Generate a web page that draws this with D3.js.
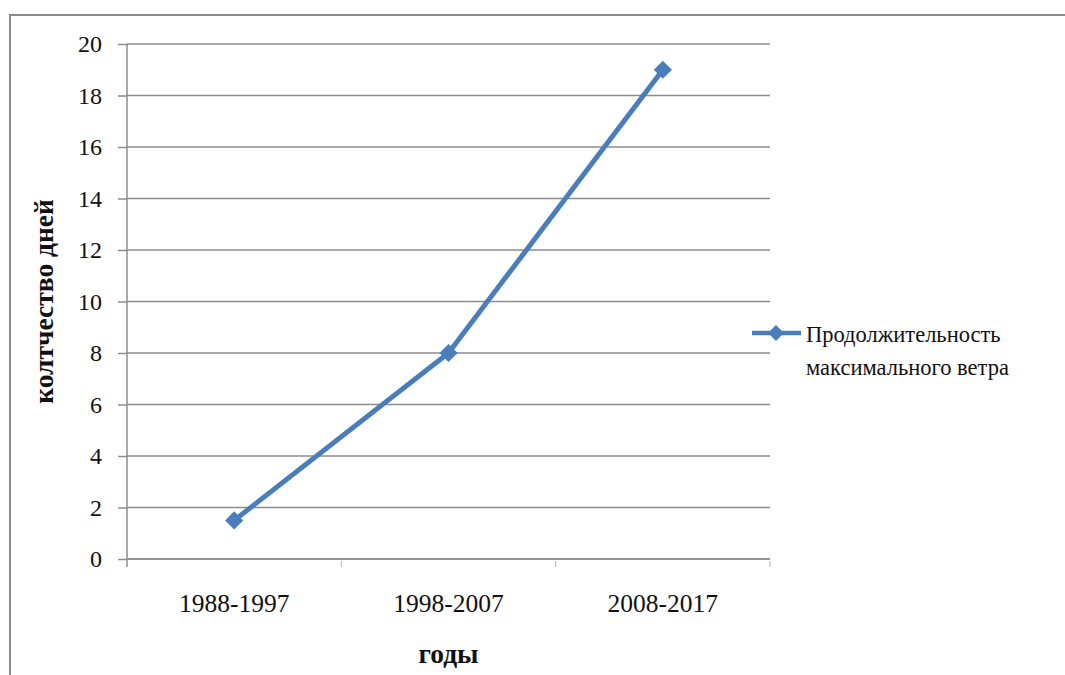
<!DOCTYPE html>
<html>
<head>
<meta charset="utf-8">
<script src="https://cdn.jsdelivr.net/npm/d3@7"></script>
<style>
  html, body { margin: 0; padding: 0; background: #fff; }
  svg { display: block; }
  text { font-family: "Liberation Serif", "Times New Roman", serif; fill: #111; }
</style>
</head>
<body>
<svg id="chart" width="1065" height="675"></svg>
<script>
// Data
const periods = ["1988-1997", "1998-2007", "2008-2017"];
const durationDays = [1.5, 8, 19];
const yTicks = [0, 2, 4, 6, 8, 10, 12, 14, 16, 18, 20];
const seriesName = ["Продолжительность", "максимального ветра"];
const yTitle = "колтчество дней";
const xTitle = "годы";

const svg = d3.select("#chart");
const lineColor = "#4a7ebb";
const gridColor = "#8c8c8c";
const serif = "'Liberation Serif', 'Times New Roman', serif";

// Outer chart frame
svg.append("rect")
  .attr("x", 10).attr("y", 15)
  .attr("width", 1070).attr("height", 680)
  .attr("fill", "#fff")
  .attr("stroke", "#8a8a8a").attr("stroke-width", 2);

const plot = { left: 127, right: 770, top: 44, bottom: 559 };

const x = d3.scaleBand().domain(periods).range([plot.left, plot.right]);
const y = d3.scaleLinear().domain([0, 20]).range([plot.bottom, plot.top]);

// Horizontal gridlines
svg.append("g")
  .selectAll("line")
  .data(yTicks)
  .join("line")
  .attr("x1", plot.left).attr("x2", plot.right)
  .attr("y1", d => y(d)).attr("y2", d => y(d))
  .attr("stroke", gridColor).attr("stroke-width", 1.5);

// Y axis
const yAxis = svg.append("g")
  .attr("transform", `translate(${plot.left},0)`)
  .call(d3.axisLeft(y).tickValues(yTicks).tickSize(9).tickPadding(16));
yAxis.attr("font-family", serif).attr("font-size", 24);
yAxis.select(".domain").attr("stroke", gridColor).attr("stroke-width", 1.5)
  .attr("d", `M0,${plot.top}V${plot.bottom + 8}`);
yAxis.selectAll(".tick line").attr("stroke", gridColor).attr("stroke-width", 1.5);
yAxis.selectAll(".tick text").attr("fill", "#111");

// X axis with ticks on category boundaries
const xAxis = svg.append("g")
  .attr("transform", `translate(0,${plot.bottom})`)
  .call(d3.axisBottom(x).tickSize(0).tickPadding(35));
xAxis.attr("font-family", serif).attr("font-size", 25.5);
xAxis.select(".domain").attr("stroke", gridColor).attr("stroke-width", 1.5)
  .attr("d", `M${plot.left},0H${plot.right}`);
xAxis.selectAll(".tick text").attr("fill", "#111");
const boundaries = periods.map(p => x(p)).concat([x(periods[periods.length - 1]) + x.bandwidth()]);
xAxis.append("g")
  .selectAll("line")
  .data(boundaries.slice(1))
  .join("line")
  .attr("x1", d => d).attr("x2", d => d)
  .attr("y1", 2).attr("y2", 8)
  .attr("stroke", "#b0b0b0").attr("stroke-width", 1);

// Axis titles
svg.append("text")
  .attr("transform", `translate(53,${(plot.top + plot.bottom) / 2}) rotate(-90)`)
  .attr("text-anchor", "middle")
  .attr("font-family", serif)
  .attr("font-size", 27.5).attr("font-weight", "bold")
  .text(yTitle);
svg.append("text")
  .attr("x", (plot.left + plot.right) / 2).attr("y", 663)
  .attr("text-anchor", "middle")
  .attr("font-family", serif)
  .attr("font-size", 27.5).attr("font-weight", "bold")
  .text(xTitle);

// Series line
const pts = periods.map((p, i) => [x(p) + x.bandwidth() / 2, y(durationDays[i])]);
svg.append("path")
  .attr("d", d3.line()(pts))
  .attr("fill", "none")
  .attr("stroke", lineColor).attr("stroke-width", 5)
  .attr("stroke-linejoin", "round");

// Diamond markers
const diamond = d3.symbol().type(d3.symbolDiamond2).size(210);
svg.append("g")
  .selectAll("path")
  .data(pts)
  .join("path")
  .attr("transform", d => `translate(${d[0]},${d[1]})`)
  .attr("d", diamond)
  .attr("fill", lineColor);

// Legend
const legY = 333;
svg.append("line")
  .attr("x1", 752).attr("x2", 801).attr("y1", legY).attr("y2", legY)
  .attr("stroke", lineColor).attr("stroke-width", 4.5);
svg.append("path")
  .attr("transform", `translate(776,${legY})`)
  .attr("d", d3.symbol().type(d3.symbolDiamond2).size(160))
  .attr("fill", lineColor);
svg.append("text")
  .attr("x", 806).attr("y", legY + 9)
  .attr("font-family", serif)
  .attr("font-size", 22.5)
  .selectAll("tspan")
  .data(seriesName)
  .join("tspan")
  .attr("x", 806)
  .attr("dy", (d, i) => i === 0 ? 0 : 33)
  .text(d => d);
</script>
</body>
</html>
